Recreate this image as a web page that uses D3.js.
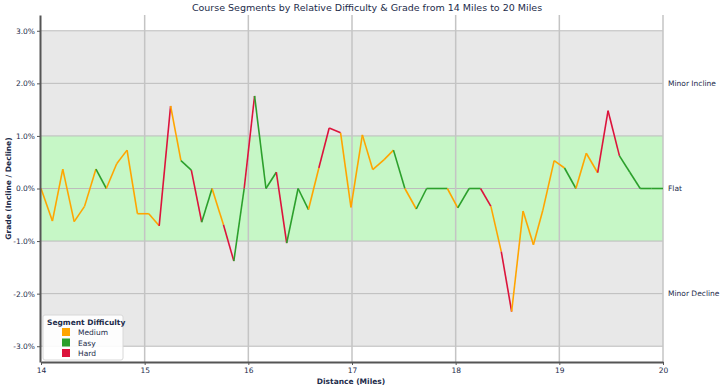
<!DOCTYPE html>
<html><head><meta charset="utf-8">
<script src="https://cdn.jsdelivr.net/npm/d3@7"></script>
<style>body{margin:0;background:#fff;} svg{display:block;font-family:"DejaVu Sans",sans-serif;}</style>
</head><body><svg id="c" width="720" height="390"></svg>
<script>
const distances = [14.00,14.11,14.21,14.32,14.42,14.53,14.63,14.73,14.83,14.93,15.04,15.14,15.25,15.35,15.45,15.55,15.65,15.76,15.86,15.96,16.06,16.17,16.27,16.37,16.48,16.58,16.68,16.78,16.89,16.99,17.10,17.20,17.31,17.40,17.51,17.62,17.72,17.82,17.92,18.02,18.13,18.24,18.34,18.44,18.54,18.65,18.75,18.84,18.95,19.05,19.16,19.26,19.37,19.47,19.58,19.68,19.78,19.89,20.00];
const grades = [0,-0.62,0.37,-0.63,-0.34,0.37,0,0.47,0.73,-0.48,-0.48,-0.71,1.57,0.53,0.35,-0.64,0,-0.69,-1.38,0,1.76,0,0.31,-1.04,0,-0.40,0.39,1.15,1.06,-0.36,1.02,0.36,0.55,0.73,0,-0.39,0,0,0,-0.37,0,0,-0.34,-1.20,-2.34,-0.43,-1.07,-0.42,0.53,0.39,0,0.67,0.30,1.48,0.62,0.31,0,0,0];
// difficulty of each segment (from point i to point i+1)
const segmentDifficulty = ["Medium","Medium","Medium","Medium","Medium","Easy","Medium","Medium","Medium","Medium","Medium","Hard","Medium","Easy","Hard","Easy","Medium","Hard","Easy","Hard","Easy","Easy","Hard","Easy","Easy","Medium","Hard","Hard","Medium","Medium","Medium","Medium","Medium","Easy","Medium","Easy","Easy","Easy","Medium","Easy","Easy","Hard","Medium","Hard","Medium","Medium","Medium","Medium","Medium","Easy","Medium","Medium","Hard","Hard","Easy","Easy","Easy","Easy"];
const legendNames = ["Medium","Easy","Hard"];
const legendColors = ["#FFA500","#2CA02C","#DC143C"];
const yTicks = [-3,-2,-1,0,1,2,3];
const xTicks = [14,15,16,17,18,19,20];
const zoneValues = [2,0,-2];
const zoneNames = ["Minor Incline","Flat","Minor Decline"];
const titleText = "Course Segments by Relative Difficulty & Grade from 14 Miles to 20 Miles";

const svg = d3.select("#c");
const L = 41, R = 663, T = 15, B = 362;
const x = d3.scaleLinear().domain([14,20]).range([L,R]);
const y = d3.scaleLinear().domain([-3.3,3.3]).range([B,T]);
const color = d3.scaleOrdinal().domain(legendNames).range(legendColors);
const navy = "#1c2b4a";

// backgrounds
svg.append("rect").attr("x",L).attr("width",R-L).attr("y",y(3)).attr("height",y(-3)-y(3)).attr("fill","#e8e8e8");
svg.append("rect").attr("x",L).attr("width",R-L).attr("y",y(1)).attr("height",y(-1)-y(1)).attr("fill","#c6f7c6");

// grid
svg.append("g").selectAll("line").data(yTicks).join("line")
  .attr("x1",L).attr("x2",R).attr("y1",d=>y(d)).attr("y2",d=>y(d))
  .attr("stroke","#bcbcbc").attr("stroke-width",1);
svg.append("g").selectAll("line").data(xTicks.slice(1)).join("line")
  .attr("x1",d=>x(d)).attr("x2",d=>x(d)).attr("y1",T).attr("y2",B)
  .attr("stroke","#c4c4c4").attr("stroke-width",1.5);

// line segments
const segs = segmentDifficulty.map((d,i)=>({d, x1:distances[i], y1:grades[i], x2:distances[i+1], y2:grades[i+1]}));
svg.append("g").selectAll("line").data(segs).join("line")
  .attr("x1",s=>x(s.x1)).attr("y1",s=>y(s.y1)).attr("x2",s=>x(s.x2)).attr("y2",s=>y(s.y2))
  .attr("stroke",s=>color(s.d)).attr("stroke-width",1.6).attr("stroke-linecap","butt");

// axes
const yAxis = svg.append("g").attr("transform",`translate(${L-1},0)`)
  .call(d3.axisLeft(y).tickValues(yTicks).tickFormat(d=>d.toFixed(1)+"%").tickSize(3).tickSizeOuter(0));
const xAxis = svg.append("g").attr("transform",`translate(0,${B})`)
  .call(d3.axisBottom(x).tickValues(xTicks).tickFormat(d3.format("d")).tickSize(3).tickSizeOuter(0));
[yAxis,xAxis].forEach(g=>{
  g.select(".domain").attr("stroke","#555").attr("stroke-width",2);
  g.selectAll(".tick line").attr("stroke","#555");
  g.selectAll("text").attr("fill",navy).attr("font-size",7.5).attr("font-family","DejaVu Sans");
});
yAxis.selectAll("text").attr("x",-5);

// zone labels on the right
svg.append("g").selectAll("text").data(zoneValues).join("text")
  .attr("x",668).attr("y",d=>y(d)).attr("dy","0.35em")
  .attr("font-size",7.5).attr("fill",navy).text((d,i)=>zoneNames[i]);

// title & axis titles
svg.append("text").attr("x",367).attr("y",11).attr("text-anchor","middle")
  .attr("font-size",9.5).attr("fill",navy).text(titleText);
svg.append("text").attr("x",351).attr("y",384).attr("text-anchor","middle")
  .attr("font-size",7.5).attr("font-weight","bold").attr("fill",navy).text("Distance (Miles)");
svg.append("text").attr("transform",`translate(11,${y(0)}) rotate(-90)`).attr("text-anchor","middle")
  .attr("font-size",7.5).attr("font-weight","bold").attr("fill",navy).text("Grade (Incline / Decline)");

// legend
const lg = svg.append("g").attr("transform","translate(43,315)");
lg.append("rect").attr("width",80).attr("height",45).attr("rx",2)
  .attr("fill","#fff").attr("fill-opacity",0.9).attr("stroke","#d8d8d8");
lg.append("text").attr("x",4).attr("y",10).attr("font-size",7.5).attr("font-weight","bold").attr("fill",navy).text("Segment Difficulty");
legendNames.forEach((n,i)=>{
  lg.append("rect").attr("x",19).attr("y",13+i*10.5).attr("width",8).attr("height",8).attr("fill",legendColors[i]);
  lg.append("text").attr("x",35).attr("y",20+i*10.5).attr("font-size",7.5).attr("fill",navy).text(n);
});
</script></body></html>
